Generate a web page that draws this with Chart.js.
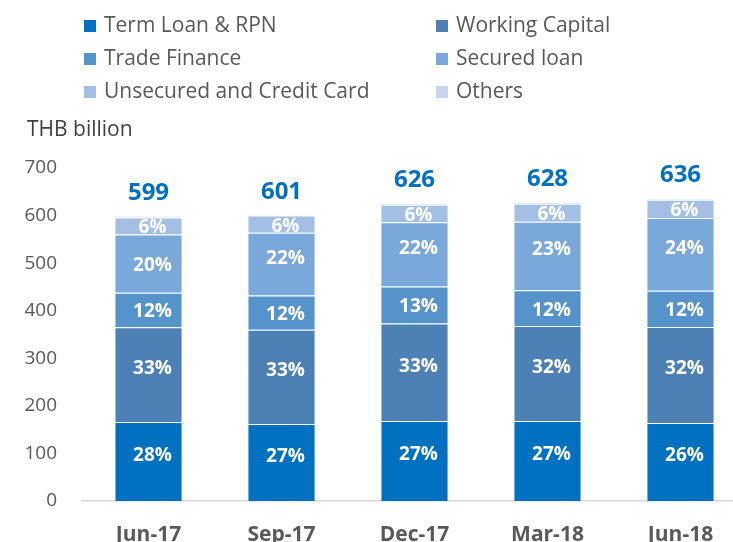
<!DOCTYPE html>
<html>
<head>
<meta charset="utf-8">
<script src="https://cdn.jsdelivr.net/npm/chart.js@4/dist/chart.umd.min.js"></script>
<style>
  html, body { margin: 0; padding: 0; background: #fff; }
  #wrap { width: 733px; height: 542px; overflow: hidden; position: relative; }
</style>
</head>
<body>
<div id="wrap"><canvas id="loan-chart" width="748" height="542"></canvas></div>
<script>
// quarters and loan book split (THB billion)
const quarters = ['Jun-17', 'Sep-17', 'Dec-17', 'Mar-18', 'Jun-18'];
const totals = [599, 601, 626, 628, 636];

const termLoan = [166, 162, 168, 168, 164];
const workingCapital = [199, 198, 205, 200, 202];
const tradeFinance = [73, 72, 78, 75, 76];
const securedLoan = [122, 132, 135, 144, 153];
const unsecuredCard = [36, 36, 37, 38, 38];
const others = [3, 1, 3, 3, 3];

// share labels printed in each segment
const termPct = ['28%', '27%', '27%', '27%', '26%'];
const wcPct = ['33%', '33%', '33%', '32%', '32%'];
const tfPct = ['12%', '12%', '13%', '12%', '12%'];
const securedPct = ['20%', '22%', '22%', '23%', '24%'];
const unsecuredPct = ['6%', '6%', '6%', '6%', '6%'];

const FONT = "'Open Sans', 'Noto Sans', sans-serif";

const series = [
  { label: 'Term Loan & RPN', data: termLoan, color: '#0070c0', pct: termPct },
  { label: 'Working Capital', data: workingCapital, color: '#4d81b6', pct: wcPct },
  { label: 'Trade Finance', data: tradeFinance, color: '#5793cb', pct: tfPct },
  { label: 'Secured loan', data: securedLoan, color: '#7aa8da', pct: securedPct },
  { label: 'Unsecured and Credit Card', data: unsecuredCard, color: '#a3c0e4', pct: unsecuredPct },
  { label: 'Others', data: others, color: '#c6d6ee', pct: null }
];

// draws the two-column legend, unit title, segment shares and totals
const annotations = {
  id: 'annotations',
  afterDraw(chart) {
    const ctx = chart.ctx;
    ctx.save();

    // legend
    ctx.font = '21px ' + FONT;
    ctx.textBaseline = 'middle';
    ctx.textAlign = 'left';
    series.forEach((s, i) => {
      const col = i % 2, row = Math.floor(i / 2);
      const x = col === 0 ? 84 : 436;
      const y = 26 + row * 33;
      ctx.fillStyle = s.color;
      ctx.fillRect(x, y - 6, 12, 12);
      ctx.fillStyle = '#595959';
      ctx.fillText(s.label, x + 20, y);
    });

    ctx.fillStyle = '#404040';
    ctx.font = '21px ' + FONT;
    ctx.fillText('THB billion', 27, 130);

    // percentages inside segments
    ctx.textAlign = 'center';
    ctx.font = 'bold 19px ' + FONT;
    ctx.fillStyle = '#ffffff';
    series.forEach((s, i) => {
      if (!s.pct) return;
      chart.getDatasetMeta(i).data.forEach((bar, j) => {
        const h = bar.base - bar.y;
        const dy = h > 60 ? -6 : 2;
        ctx.fillText(s.pct[j], bar.x + 4, (bar.y + bar.base) / 2 + dy);
      });
    });

    // totals above the stacks
    const top = chart.getDatasetMeta(series.length - 1).data;
    ctx.font = 'bold 24px ' + FONT;
    ctx.fillStyle = '#0070c0';
    top.forEach((bar, j) => {
      ctx.fillText(String(totals[j]), bar.x, bar.y - 23);
    });

    ctx.restore();
  }
};

new Chart(document.getElementById('loan-chart').getContext('2d'), {
  type: 'bar',
  data: {
    labels: quarters,
    datasets: series.map(s => ({
      label: s.label,
      data: s.data,
      backgroundColor: s.color,
      borderColor: 'rgba(255,255,255,0.45)',
      borderWidth: { top: 1 },
      borderSkipped: false,
      barPercentage: 0.5,
      categoryPercentage: 1
    }))
  },
  options: {
    responsive: false,
    devicePixelRatio: 1,
    animation: false,
    layout: { padding: { top: 168, right: 1, left: 0, bottom: 0 } },
    plugins: {
      legend: { display: false },
      tooltip: { enabled: false }
    },
    scales: {
      x: {
        stacked: true,
        grid: { display: false, drawTicks: false },
        border: { display: true, color: '#d9d9d9', width: 1.5 },
        ticks: { color: '#595959', font: { family: FONT, size: 21, weight: 'bold' }, padding: 21 },
        afterFit(scale) { scale.height = 41; }
      },
      y: {
        stacked: true,
        min: 0,
        max: 700,
        grid: { display: false, drawTicks: false },
        border: { display: false },
        ticks: { stepSize: 100, color: '#595959', font: { family: FONT, size: 19 }, padding: 25 },
        afterFit(scale) { scale.width = 82; }
      }
    }
  },
  plugins: [annotations]
});
</script>
</body>
</html>
